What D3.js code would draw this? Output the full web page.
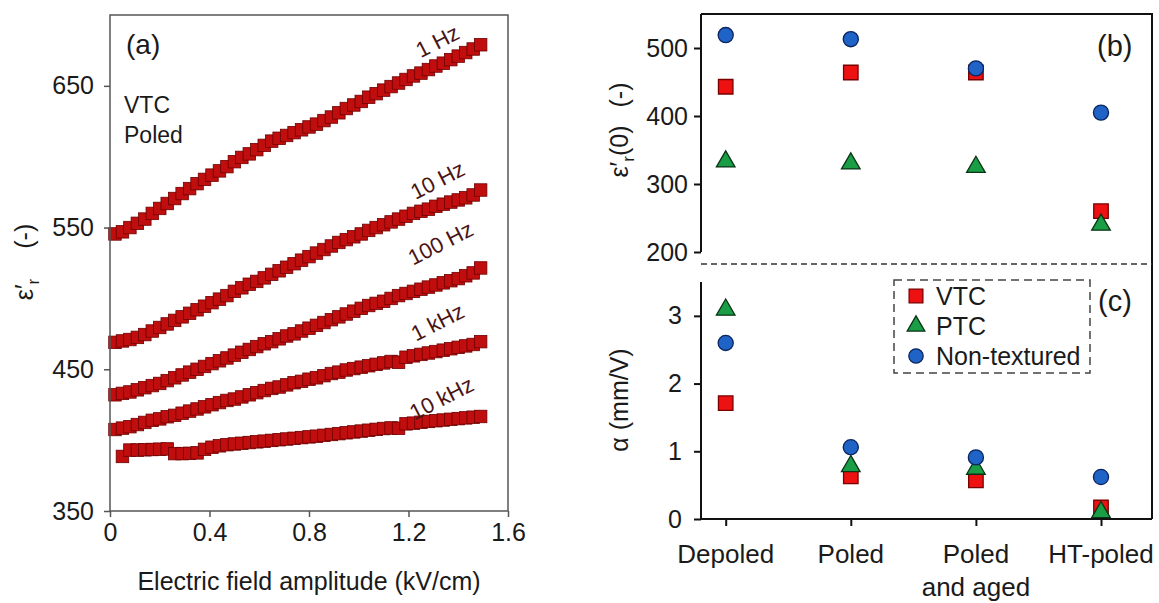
<!DOCTYPE html>
<html>
<head>
<meta charset="utf-8">
<script src="https://cdn.jsdelivr.net/npm/d3@7"></script>
<style>
  html, body { margin: 0; padding: 0; background: #fff; }
  svg { display: block; font-family: "Liberation Sans", Arial, sans-serif; }
</style>
</head>
<body>
<div id="chart"></div>
<script>
// (a) permittivity vs field amplitude, VTC poled
const fieldX = [0.02, 0.05, 0.08, 0.11, 0.14, 0.17, 0.20, 0.23, 0.26, 0.29,
  0.32, 0.35, 0.38, 0.41, 0.44, 0.47, 0.50, 0.53, 0.56, 0.59,
  0.62, 0.65, 0.68, 0.71, 0.74, 0.77, 0.80, 0.83, 0.86, 0.89,
  0.92, 0.95, 0.98, 1.01, 1.04, 1.07, 1.10, 1.13, 1.16, 1.19,
  1.22, 1.25, 1.28, 1.31, 1.34, 1.37, 1.40, 1.43, 1.46, 1.49];
const eps1Hz = [545.5, 547, 550, 553, 556, 560, 563.5, 567, 570.5, 574,
  577.5, 581, 584, 587, 590, 593, 596.5, 599.5, 602, 605,
  608, 611, 613, 615, 617, 619, 621, 623, 625.5, 628,
  631, 634, 636.5, 639, 642, 644.5, 647, 649.5, 652, 654.5,
  657, 659, 661.5, 664, 666, 668.5, 671, 673.5, 676, 679];
const eps10Hz = [469, 470, 471, 472.5, 474.5, 477, 479.5, 482, 484.5, 487,
  489.5, 492, 494.5, 497, 499.5, 502, 505, 507.5, 510, 512,
  514.5, 517, 519.5, 522, 524.5, 527, 529.5, 532, 534.5, 537,
  539.5, 541.5, 543.5, 545.5, 548, 550, 552, 554, 556, 558,
  560, 561.5, 563, 565, 566.5, 568, 569.5, 571, 573, 576.5];
const eps100Hz = [432, 433, 434, 435.5, 437, 438.5, 440, 442, 444, 446,
  448, 450, 452, 454, 456, 458, 460, 462, 464, 466,
  468, 469.5, 471.5, 473.5, 475, 477, 479, 481, 483, 485,
  487, 489, 491, 493, 495, 496.5, 498, 500, 502, 503.5,
  505, 506.5, 508, 509.5, 511, 512.5, 514, 516, 518, 521.5];
const eps1kHz = [407.5, 408.5, 409.5, 411, 412.5, 414, 415, 416.5, 417.5, 419,
  420.5, 422, 423.5, 425, 426.5, 428, 429, 430.5, 432, 433.5,
  435, 436.5, 437.5, 439, 440.5, 441.5, 443, 444, 445.5, 447,
  448, 449.5, 450.5, 451.5, 452.5, 453.5, 454.5, 455.5, 455, 458.5,
  459.5, 460.5, 461.5, 462.5, 463.5, 464.5, 465.5, 466.5, 467.5, 469.5];
const eps10kHz = [null, 388.5, 393, 393, 393.2, 393.4, 393.6, 393.8, 390.5, 390.5,
  390.7, 391, 393.5, 395, 396, 396.8, 397.3, 397.8, 398.3, 398.8,
  399.3, 399.8, 400.3, 400.8, 401.3, 401.8, 402.3, 402.8, 403.4, 404,
  404.6, 405.2, 405.8, 406.4, 407, 407.6, 408.2, 408.6, 408.4, 411.5,
  412, 412.6, 413.2, 413.7, 414.2, 414.7, 415.2, 415.7, 416.2, 416.7];
const freqLabels = ["1 Hz", "10 Hz", "100 Hz", "1 kHz", "10 kHz"];
const fieldTicks = [0, 0.4, 0.8, 1.2, 1.6];
const epsTicks = [350, 450, 550, 650];

// (b) and (c) per processing state
const stages = ["Depoled", "Poled", "Poled|and aged", "HT-poled"];
const eps0VTC = [443, 464, 464, 260];
const eps0PTC = [333, 330, 325, 240];
const eps0NT = [519, 513, 470, 405];
const alphaVTC = [1.71, 0.63, 0.57, 0.17];
const alphaPTC = [3.09, 0.78, 0.74, 0.10];
const alphaNT = [2.60, 1.06, 0.91, 0.62];
const sampleNames = ["VTC", "PTC", "Non-textured"];
const eps0Ticks = [200, 300, 400, 500];
const alphaTicks = [0, 1, 2, 3];

const W = 1159, H = 603;
const svg = d3.select("#chart").append("svg")
  .attr("width", W).attr("height", H)
  .attr("viewBox", `0 0 ${W} ${H}`);

const txt = "#1a1a1a";

// ---------- panel (a) ----------
const xA = d3.scaleLinear().domain([0, 1.6]).range([110, 508]);
const yA = d3.scaleLinear().domain([350, 700]).range([511, 15]);

const series = [eps1Hz, eps10Hz, eps100Hz, eps1kHz, eps10kHz];
const sq = 12.5;
series.forEach(vals => {
  const pts = fieldX.map((x, i) => ({x, y: vals[i]})).filter(d => d.y != null);
  svg.append("g").selectAll("rect")
    .data(pts)
    .enter()
    .append("rect")
    .attr("x", d => xA(d.x) - sq / 2)
    .attr("y", d => yA(d.y) - sq / 2)
    .attr("width", sq)
    .attr("height", sq)
    .attr("fill", "#c00d0d")
    .attr("stroke", "#6e0000")
    .attr("stroke-width", 0.8);
});

// box
svg.append("rect")
  .attr("x", 110).attr("y", 15)
  .attr("width", 398).attr("height", 496)
  .attr("fill", "none").attr("stroke", "#555").attr("stroke-width", 1.5);

const axA = svg.append("g").attr("transform", "translate(0,511)")
  .call(d3.axisBottom(xA).tickValues(fieldTicks).tickSize(6).tickPadding(6)
    .tickFormat(d => d === 0 ? "0" : d3.format(".1f")(d)));
const ayA = svg.append("g").attr("transform", "translate(110,0)")
  .call(d3.axisLeft(yA).tickValues(epsTicks).tickSize(6).tickPadding(10));
[axA, ayA].forEach(g => {
  g.select(".domain").remove();
  g.selectAll(".tick line").attr("stroke", "#555").attr("stroke-width", 1.5);
  g.selectAll(".tick text").attr("fill", txt).style("font-size", "25px");
});

svg.append("text")
  .attr("x", 309).attr("y", 590)
  .attr("text-anchor", "middle").attr("fill", txt).style("font-size", "25px")
  .text("Electric field amplitude (kV/cm)");

const yLabA = svg.append("text")
  .attr("transform", "translate(33,262) rotate(-90)")
  .attr("text-anchor", "middle").attr("fill", txt).style("font-size", "25px");
yLabA.append("tspan").text("ε′");
yLabA.append("tspan").attr("dy", 6).style("font-size", "17px").text("r");
yLabA.append("tspan").attr("dy", -6).attr("dx", 30).text("(-)");

svg.append("text").attr("x", 126).attr("y", 54)
  .attr("fill", txt).style("font-size", "28px").text("(a)");
svg.append("text").attr("x", 124).attr("y", 113)
  .attr("fill", txt).style("font-size", "23px").text("VTC");
svg.append("text").attr("x", 124).attr("y", 143)
  .attr("fill", txt).style("font-size", "23px").text("Poled");

const labelPos = [[441, 48], [441, 187], [444, 250], [441, 329], [445, 405]];
freqLabels.forEach((t, i) => {
  svg.append("text")
    .attr("transform", `translate(${labelPos[i][0]},${labelPos[i][1]}) rotate(-27)`)
    .attr("text-anchor", "middle")
    .attr("fill", "#4a1414")
    .style("font-size", "22px")
    .text(t);
});

// ---------- panels (b) and (c) ----------
const xB = d3.scaleLinear().domain([0, stages.length - 1]).range([725.7, 1101]);
const yB = d3.scaleLinear().domain([200, 550]).range([252, 14]);
const yC = d3.scaleLinear().domain([0, 3.5]).range([519, 282]);

const styles = [
  {type: d3.symbolSquare, size: 210, fill: "#ee1111", stroke: "#7a0000"},
  {type: d3.symbolTriangle, size: 150, fill: "#1a9e45", stroke: "#0b3315"},
  {type: d3.symbolCircle, size: 180, fill: "#1f63c6", stroke: "#0b2560"}
];

function drawMarks(vals, yScale, st) {
  svg.append("g").selectAll("path")
    .data(vals)
    .enter()
    .append("path")
    .attr("d", d3.symbol().type(st.type).size(st.size))
    .attr("transform", (d, i) => `translate(${xB(i)},${yScale(d)})`)
    .attr("fill", st.fill)
    .attr("stroke", st.stroke)
    .attr("stroke-width", 1.3);
}
[eps0VTC, eps0PTC, eps0NT].forEach((v, k) => drawMarks(v, yB, styles[k]));
[alphaVTC, alphaPTC, alphaNT].forEach((v, k) => drawMarks(v, yC, styles[k]));

const frame = svg.append("g").attr("stroke", "#111").attr("stroke-width", 2).attr("fill", "none");
frame.append("path").attr("d", "M701,14H1152V519");
frame.append("line").attr("x1", 701).attr("x2", 701).attr("y1", 14).attr("y2", 252);
frame.append("line").attr("x1", 701).attr("x2", 701).attr("y1", 282).attr("y2", 519);
frame.append("line").attr("x1", 701).attr("x2", 1152).attr("y1", 519).attr("y2", 519);

svg.append("line")
  .attr("x1", 701).attr("x2", 1152).attr("y1", 264).attr("y2", 264)
  .attr("stroke", "#333").attr("stroke-width", 1.5).attr("stroke-dasharray", "6,4");

const ayB = svg.append("g").attr("transform", "translate(701,0)")
  .call(d3.axisLeft(yB).tickValues(eps0Ticks).tickSize(7).tickPadding(6));
const ayC = svg.append("g").attr("transform", "translate(701,0)")
  .call(d3.axisLeft(yC).tickValues(alphaTicks).tickSize(7).tickPadding(12)
    .tickFormat(d3.format("d")));
const axB = svg.append("g").attr("transform", "translate(0,519)")
  .call(d3.axisBottom(xB).tickValues(d3.range(stages.length)).tickSize(7).tickPadding(8)
    .tickFormat(() => ""));
[ayB, ayC, axB].forEach(g => {
  g.select(".domain").remove();
  g.selectAll(".tick line").attr("stroke", "#111").attr("stroke-width", 2);
  g.selectAll(".tick text").attr("fill", txt).style("font-size", "25px");
});

stages.forEach((s, i) => {
  const lines = s.split("|");
  const t = svg.append("text")
    .attr("x", xB(i)).attr("y", 563)
    .attr("text-anchor", "middle").attr("fill", txt).style("font-size", "26px");
  lines.forEach((ln, j) => {
    t.append("tspan").attr("x", xB(i)).attr("dy", j === 0 ? 0 : 33).text(ln);
  });
});

const yLabB = svg.append("text")
  .attr("transform", "translate(628,130) rotate(-90)")
  .attr("text-anchor", "middle").attr("fill", txt).style("font-size", "25px");
yLabB.append("tspan").text("ε′");
yLabB.append("tspan").attr("dy", 6).style("font-size", "17px").text("r");
yLabB.append("tspan").attr("dy", -6).text("(0)");
yLabB.append("tspan").attr("dx", 18).text("(-)");

svg.append("text")
  .attr("transform", "translate(628,400) rotate(-90)")
  .attr("text-anchor", "middle").attr("fill", txt).style("font-size", "25px")
  .text("α  (mm/V)");

svg.append("text").attr("x", 1097).attr("y", 56)
  .attr("fill", txt).style("font-size", "29px").text("(b)");
svg.append("text").attr("x", 1098).attr("y", 311)
  .attr("fill", txt).style("font-size", "29px").text("(c)");

// legend
const leg = svg.append("g");
leg.append("rect")
  .attr("x", 894).attr("y", 280).attr("width", 196).attr("height", 93)
  .attr("fill", "#fff").attr("stroke", "#444").attr("stroke-width", 1.5)
  .attr("stroke-dasharray", "8,5");
sampleNames.forEach((n, k) => {
  const cy = 296 + k * 30;
  leg.append("path")
    .attr("d", d3.symbol().type(styles[k].type).size(styles[k].size * 0.9))
    .attr("transform", `translate(916,${cy})`)
    .attr("fill", styles[k].fill).attr("stroke", styles[k].stroke).attr("stroke-width", 1.3);
  leg.append("text")
    .attr("x", 936).attr("y", cy + 9)
    .attr("fill", txt).style("font-size", "25px").text(n);
});
</script>
</body>
</html>
